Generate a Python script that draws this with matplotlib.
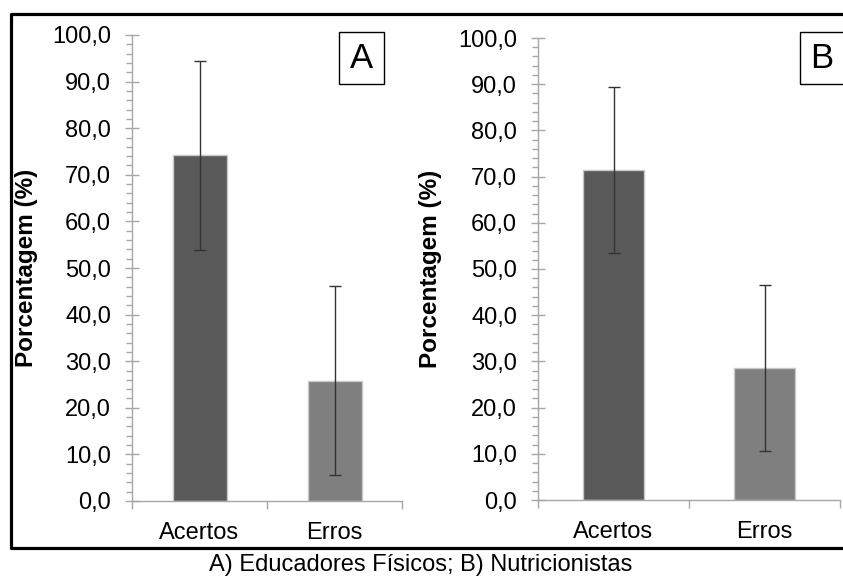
import matplotlib.pyplot as plt
from matplotlib.ticker import MultipleLocator, FuncFormatter, FixedLocator
from matplotlib.patches import Rectangle
from matplotlib.lines import Line2D

plt.rcParams['font.family'] = ['Liberation Sans', 'DejaVu Sans']

categories = ['Acertos', 'Erros']
values_a = [74.2, 25.8]
errors_a = [20.3, 20.3]
values_b = [71.4, 28.6]
errors_b = [17.9, 17.9]
bar_colors = ['#595959', '#7f7f7f']
caption = 'A) Educadores Físicos; B) Nutricionistas'

W, H = 843, 576
fig = plt.figure(figsize=(W / 100, H / 100), dpi=100)


def px_axes(left, top, right, bottom):
    return fig.add_axes([left / W, 1 - bottom / H, (right - left) / W, (bottom - top) / H])


def draw_panel(ax, values, errors, label_x):
    xs = range(len(categories))
    ax.bar(xs, values, width=0.4, color=bar_colors, edgecolor='#c8c8c8', linewidth=1, zorder=2)
    ax.errorbar(xs, values, yerr=errors, fmt='none', ecolor='#333333', elinewidth=1,
                capsize=4, capthick=1, zorder=3)
    ax.set_xlim(-0.5, 1.5)
    ax.set_ylim(0, 100)
    for s in ['top', 'right']:
        ax.spines[s].set_visible(False)
    for s in ['left', 'bottom']:
        ax.spines[s].set_color('#a6a6a6')
        ax.spines[s].set_linewidth(1)
    ax.yaxis.set_major_locator(MultipleLocator(10))
    ax.yaxis.set_minor_locator(MultipleLocator(2))
    ax.yaxis.set_major_formatter(FuncFormatter(lambda v, p: f'{v:.1f}'.replace('.', ',')))
    ax.tick_params(axis='y', which='major', direction='inout', length=10, width=1,
                   color='#a6a6a6', labelsize=17, pad=10)
    ax.tick_params(axis='y', which='minor', direction='out', length=4, width=1, color='#a6a6a6')
    # category boundaries get the ticks, names sit between them
    ax.xaxis.set_major_locator(FixedLocator([-0.5, 0.5, 1.5]))
    ax.xaxis.set_major_formatter(FuncFormatter(lambda v, p: ''))
    ax.set_xticks(list(xs), minor=True)
    ax.set_xticklabels(categories, minor=True)
    ax.tick_params(axis='x', which='major', direction='out', length=6, width=1, color='#a6a6a6')
    ax.tick_params(axis='x', which='minor', length=0, labelsize=17, pad=15)
    ax.set_ylabel('Porcentagem (%)', fontsize=17.5, fontweight='bold')
    ax.yaxis.set_label_coords(label_x, 0.5)


ax_a = px_axes(132, 35, 402, 501)
draw_panel(ax_a, values_a, errors_a, -0.348)
ax_b = px_axes(538, 38, 840, 500)
draw_panel(ax_b, values_b, errors_b, -0.318)


def tag(x0, x1, letter):
    fig.patches.append(Rectangle((x0 / W, 1 - 84 / H), (x1 - x0) / W, 52 / H,
                                 transform=fig.transFigure, fill=False, edgecolor='black',
                                 linewidth=1))
    fig.text((x0 + 22) / W, 1 - 58 / H, letter, fontsize=25, ha='center', va='center')


tag(339, 384, 'A')
tag(800, 846, 'B')

# outer frame (right side is cut off in the original)
fig.lines.append(Line2D([1.01, 10.5 / W, 10.5 / W, 1.01],
                        [1 - 13.5 / H, 1 - 13.5 / H, 1 - 548 / H, 1 - 548 / H],
                        transform=fig.transFigure, color='black', linewidth=2.3))

fig.text(421 / W, 1 - 565 / H, caption, fontsize=17, ha='center', va='center')

fig.savefig('out.png', dpi=100)
